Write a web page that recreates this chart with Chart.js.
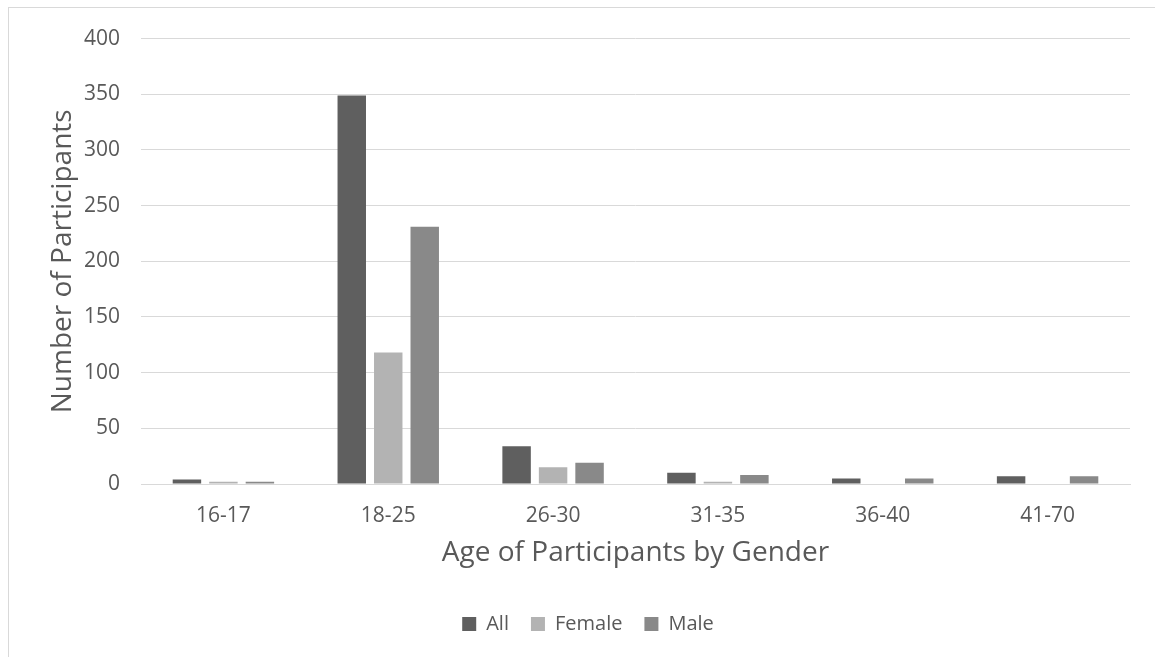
<!DOCTYPE html>
<html>
<head>
<meta charset="utf-8">
<title>Age of Participants by Gender</title>
<script src="https://cdn.jsdelivr.net/npm/chart.js@4/dist/chart.umd.min.js"></script>
<style>
    html, body { margin: 0; padding: 0; background: #fff; overflow: hidden; }
    body { width: 1155px; height: 657px; position: relative; }
    .frame {
        position: absolute; left: 8px; top: 7px; width: 1200px; height: 700px;
        border-left: 1px solid #d9d9d9; border-top: 1px solid #d9d9d9;
    }
    .chart-box { position: absolute; left: 0; top: -3px; width: 1158px; height: 652px; }
</style>
</head>
<body>
<div class="frame">
    <div class="chart-box"><canvas id="ageChart"></canvas></div>
</div>
<script>
const ageGroups = ['16-17', '18-25', '26-30', '31-35', '36-40', '41-70'];
const allCounts = [4, 349, 34, 10, 5, 7];
const femaleCounts = [2, 118, 15, 2, 0, 0];
const maleCounts = [2, 231, 19, 8, 5, 7];
const yTicks = [0, 50, 100, 150, 200, 250, 300, 350, 400];

const TEXT = '#595959';
const GRID = '#d9d9d9';
const FONT = 'Open Sans';

function series(label, data, color) {
    return {
        label,
        data,
        backgroundColor: color,
        borderWidth: 0,
        categoryPercentage: 0.664,
        barPercentage: 0.78
    };
}

new Chart(document.getElementById('ageChart'), {
    type: 'bar',
    data: {
        labels: ageGroups,
        datasets: [
            series('All', allCounts, '#5f5f5f'),
            series('Female', femaleCounts, '#b3b3b3'),
            series('Male', maleCounts, '#898989')
        ]
    },
    options: {
        responsive: true,
        maintainAspectRatio: false,
        animation: false,
        layout: { padding: { top: 18, bottom: 13, left: 0, right: 0 } },
        plugins: {
            tooltip: { enabled: false },
            legend: {
                position: 'bottom',
                labels: {
                    boxWidth: 14,
                    boxHeight: 14,
                    padding: 22,
                    color: TEXT,
                    font: { family: FONT, size: 20 }
                }
            }
        },
        scales: {
            x: {
                afterFit: scale => { scale.height = 108; },
                grid: { display: false, drawTicks: false },
                border: { color: GRID, width: 1 },
                ticks: { color: TEXT, padding: 19, font: { family: FONT, size: 21 } },
                title: {
                    display: true,
                    text: 'Age of Participants by Gender',
                    color: TEXT,
                    font: { family: FONT, size: 28 },
                    padding: { top: 0, bottom: 22 }
                }
            },
            y: {
                min: 0,
                max: 400,
                afterBuildTicks: scale => { scale.ticks = yTicks.map(v => ({ value: v })); },
                afterFit: scale => { scale.width = 132; },
                grid: { color: GRID, lineWidth: 1, drawTicks: false },
                border: { display: false },
                ticks: { color: TEXT, padding: 21, font: { family: FONT, size: 21 } },
                title: {
                    display: true,
                    text: 'Number of Participants',
                    color: TEXT,
                    font: { family: FONT, size: 28 },
                    padding: { top: 37, bottom: 4 }
                }
            },
            // empty right axis keeps the plot clear of the right edge without shrinking the legend
            yRight: {
                position: 'right',
                afterFit: scale => { scale.width = 37; },
                grid: { display: false, drawTicks: false },
                border: { display: false },
                ticks: { display: false }
            }
        }
    }
});
</script>
</body>
</html>
